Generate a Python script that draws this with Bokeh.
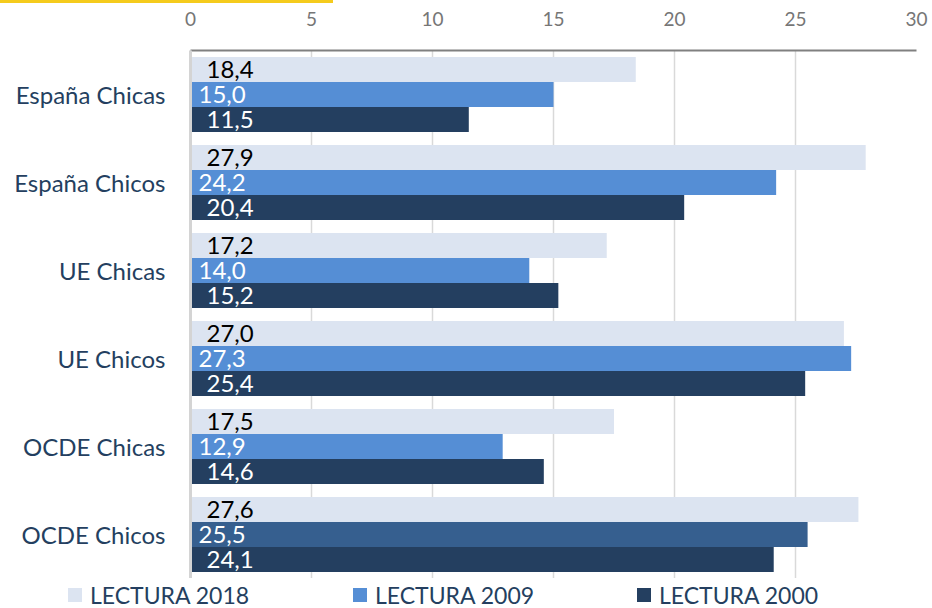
from bokeh.plotting import figure
from bokeh.layouts import column
from bokeh.models import (FactorRange, ColumnDataSource, Range1d, FixedTicker,
                          Div)
from bokeh.transform import dodge
from bokeh.core.properties import value
from bokeh.embed import file_html
from bokeh.resources import INLINE

categories = ["España Chicas", "España Chicos", "UE Chicas", "UE Chicos",
              "OCDE Chicas", "OCDE Chicos"]
lectura_2018 = [18.4, 27.9, 17.2, 27.0, 17.5, 27.6]
lectura_2009 = [15.0, 24.2, 14.0, 27.3, 12.9, 25.5]
lectura_2000 = [11.5, 20.4, 15.2, 25.4, 14.6, 24.1]
series_names = ["LECTURA 2018", "LECTURA 2009", "LECTURA 2000"]
x_ticks = [0, 5, 10, 15, 20, 25, 30]

C2018 = "#DCE4F1"
C2009 = "#558ED5"
C2009_ALT = "#365F8F"
C2000 = "#243F60"
FONT = "Lato"


def fmt(v):
    return f"{v:.1f}".replace(".", ",")


src = ColumnDataSource(dict(
    cat=categories,
    v2018=lectura_2018, v2009=lectura_2009, v2000=lectura_2000,
    t2018=[fmt(v) for v in lectura_2018],
    t2009=[fmt(v) for v in lectura_2009],
    t2000=[fmt(v) for v in lectura_2000],
    c2009=[C2009] * (len(categories) - 1) + [C2009_ALT],
))

p = figure(
    y_range=FactorRange(*reversed(categories), range_padding=0),
    x_range=Range1d(0, 30),
    x_axis_location="above",
    frame_width=726, frame_height=528,
    min_border_left=190, min_border_right=16,
    min_border_top=47, min_border_bottom=0,
    output_backend="svg", toolbar_location=None,
)
p.outline_line_color = None
p.background_fill_color = "white"
p.border_fill_color = "white"

BH = 0.285
p.hbar(y=dodge("cat", BH, range=p.y_range), left=0, right="v2018",
       height=BH, source=src, fill_color=C2018, line_color=None)
p.hbar(y=dodge("cat", 0, range=p.y_range), left=0, right="v2009",
       height=BH, source=src, fill_color="c2009", line_color=None)
p.hbar(y=dodge("cat", -BH, range=p.y_range), left=0, right="v2000",
       height=BH, source=src, fill_color=C2000, line_color=None)

common = dict(x=0, source=src, text_baseline="middle", text_align="left",
              text_font=value(FONT), text_font_size="24px")
p.text(y=dodge("cat", BH, range=p.y_range), text="t2018", x_offset=16,
       text_color="black", **common)
p.text(y=dodge("cat", 0, range=p.y_range), text="t2009", x_offset=8,
       text_color="white", **common)
p.text(y=dodge("cat", -BH, range=p.y_range), text="t2000", x_offset=16,
       text_color="white", **common)

# x axis (top)
xa = p.xaxis[0]
xa.ticker = FixedTicker(ticks=x_ticks)
xa.axis_line_color = "#808080"
xa.axis_line_width = 2
xa.major_tick_line_color = None
xa.minor_tick_line_color = None
xa.major_label_standoff = 19
xa.major_label_text_font = FONT
xa.major_label_text_font_size = "19px"
xa.major_label_text_color = "#767676"

# y axis (left)
ya = p.yaxis[0]
ya.axis_line_color = "#D4D4D4"
ya.axis_line_width = 3
ya.major_tick_line_color = None
ya.minor_tick_line_color = None
ya.major_label_standoff = 19
ya.major_label_text_font = FONT
ya.major_label_text_font_size = "24px"
ya.major_label_text_color = "#243F60"

p.xgrid.ticker = FixedTicker(ticks=x_ticks)
p.xgrid.grid_line_color = "#D9D9D9"
p.xgrid.grid_line_width = 1.5
p.ygrid.grid_line_color = None

# legend strip below the chart (HTML)
series_colors = [C2018, C2009, C2000]
item_left = [68, 353, 637]
parts = []
for name, col, x0 in zip(series_names, series_colors, item_left):
    parts.append(
        f'<span style="position:absolute;left:{x0}px;top:10px;width:14px;'
        f'height:14px;background:{col};"></span>'
        f'<span style="position:absolute;left:{x0 + 22}px;top:0px;'
        f'line-height:34px;white-space:nowrap;">{name}</span>'
    )
legend_html = (
    '<div style="position:relative;width:932px;height:30px;'
    f'font-family:{FONT};font-size:23px;color:#243F60;">'
    + "".join(parts) + "</div>"
)
legend_div = Div(text=legend_html, width=932, height=30, margin=0)

bar = Div(text="", width=333, height=3,
          styles={"background-color": "#F5CB1D"}, margin=0)
layout = column(bar, p, legend_div, spacing=0, margin=0)

open("out.html", "w").write(file_html(layout, INLINE))
